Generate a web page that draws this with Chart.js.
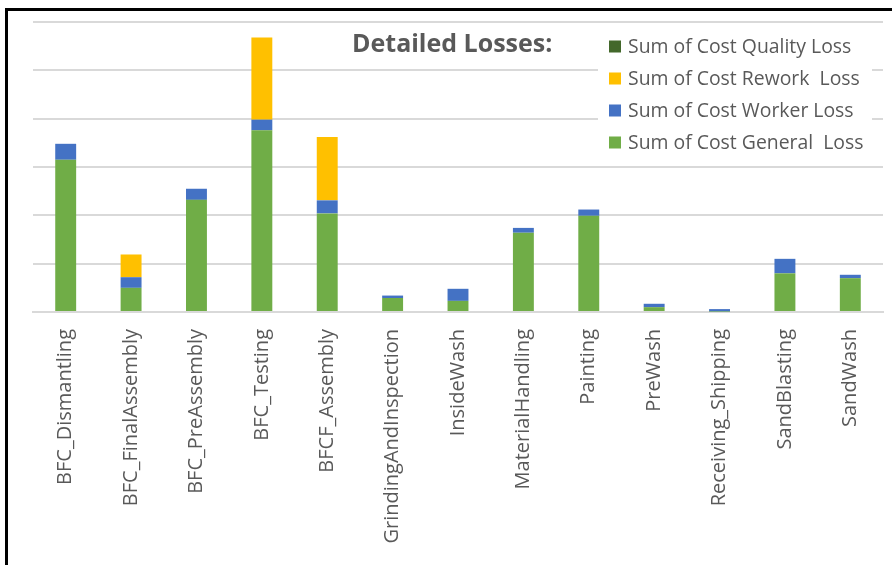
<!DOCTYPE html>
<html>
<head>
<meta charset="utf-8">
<script src="https://cdn.jsdelivr.net/npm/chart.js"></script>
<style>
  html, body { margin: 0; padding: 0; background: #fff; }
  #wrap { position: relative; width: 892px; height: 565px; }
</style>
</head>
<body>
<div id="wrap"><canvas id="lossChart" width="892" height="565"></canvas></div>
<script>
// categories (x axis)
const departments = [
    'BFC_Dismantling', 'BFC_FinalAssembly', 'BFC_PreAssembly', 'BFC_Testing',
    'BFCF_Assembly', 'GrindingAndInspection', 'InsideWash', 'MaterialHandling',
    'Painting', 'PreWash', 'Receiving_Shipping', 'SandBlasting', 'SandWash'
];

// series values (in grid units)
const generalLoss = [3.15, 0.50, 2.32, 3.76, 2.04, 0.29, 0.23, 1.64, 1.99, 0.10, 0.01, 0.80, 0.70];
const workerLoss  = [0.33, 0.22, 0.23, 0.22, 0.27, 0.05, 0.25, 0.10, 0.13, 0.07, 0.05, 0.30, 0.07];
const reworkLoss  = [0, 0.47, 0, 1.70, 1.31, 0, 0, 0, 0, 0, 0, 0, 0];
const qualityLoss = [0, 0, 0, 0, 0, 0, 0, 0, 0, 0, 0, 0, 0];

const chartTitle = 'Detailed Losses:';
const textGray = '#595959';
const gridGray = '#d9d9d9';

// draws the frame, the title and the legend box inside the plot
const overlay = {
    id: 'overlay',
    beforeDraw(chart) {
        const ctx = chart.ctx;
        ctx.save();
        ctx.fillStyle = '#000';
        ctx.fillRect(5, 8, 3, 557);   // left frame edge
        ctx.fillRect(5, 8, 887, 3);   // top frame edge
        ctx.restore();
    },
    afterDatasetsDraw(chart) {
        const ctx = chart.ctx;
        ctx.save();
        // white legend box over the gridlines
        ctx.fillStyle = '#fff';
        ctx.fillRect(598, 26, 274, 136);

        ctx.fillStyle = textGray;
        ctx.textBaseline = 'middle';
        ctx.font = 'bold 25px "Open Sans"';
        ctx.fillText(chartTitle, 352, 45);

        ctx.font = '19.4px "Open Sans"';
        const sets = chart.data.datasets.slice().reverse();
        sets.forEach((ds, i) => {
            const y = 46.5 + i * 32;
            ctx.fillStyle = ds.backgroundColor;
            ctx.fillRect(609, y - 6, 12, 12);
            ctx.fillStyle = textGray;
            ctx.fillText(ds.label, 628, y + 1);
        });
        ctx.restore();
    }
};

new Chart(document.getElementById('lossChart'), {
    type: 'bar',
    data: {
        labels: departments,
        datasets: [
            { label: 'Sum of Cost General  Loss', data: generalLoss, backgroundColor: '#70AD47' },
            { label: 'Sum of Cost Worker Loss', data: workerLoss, backgroundColor: '#4472C4' },
            { label: 'Sum of Cost Rework  Loss', data: reworkLoss, backgroundColor: '#FFC000' },
            { label: 'Sum of Cost Quality Loss', data: qualityLoss, backgroundColor: '#43682B' }
        ]
    },
    options: {
        responsive: false,
        animation: false,
        layout: { padding: { left: 0, right: 9, top: 22, bottom: 0 } },
        datasets: { bar: { barPercentage: 0.32, categoryPercentage: 1.0 } },
        plugins: {
            legend: { display: false },
            title: { display: false },
            tooltip: { enabled: false }
        },
        scales: {
            x: {
                stacked: true,
                grid: { display: false },
                border: { color: gridGray, width: 2 },
                ticks: {
                    color: textGray,
                    font: { family: '"Open Sans"', size: 20 },
                    minRotation: 90,
                    maxRotation: 90,
                    autoSkip: false,
                    padding: 9
                },
                afterFit(scale) { scale.height = 253; }
            },
            y: {
                stacked: true,
                min: 0,
                max: 6,
                ticks: { display: false, stepSize: 1 },
                border: { display: false },
                grid: { color: gridGray, lineWidth: 2, drawTicks: false },
                afterFit(scale) { scale.width = 33; }
            }
        }
    },
    plugins: [overlay]
});
</script>
</body>
</html>
